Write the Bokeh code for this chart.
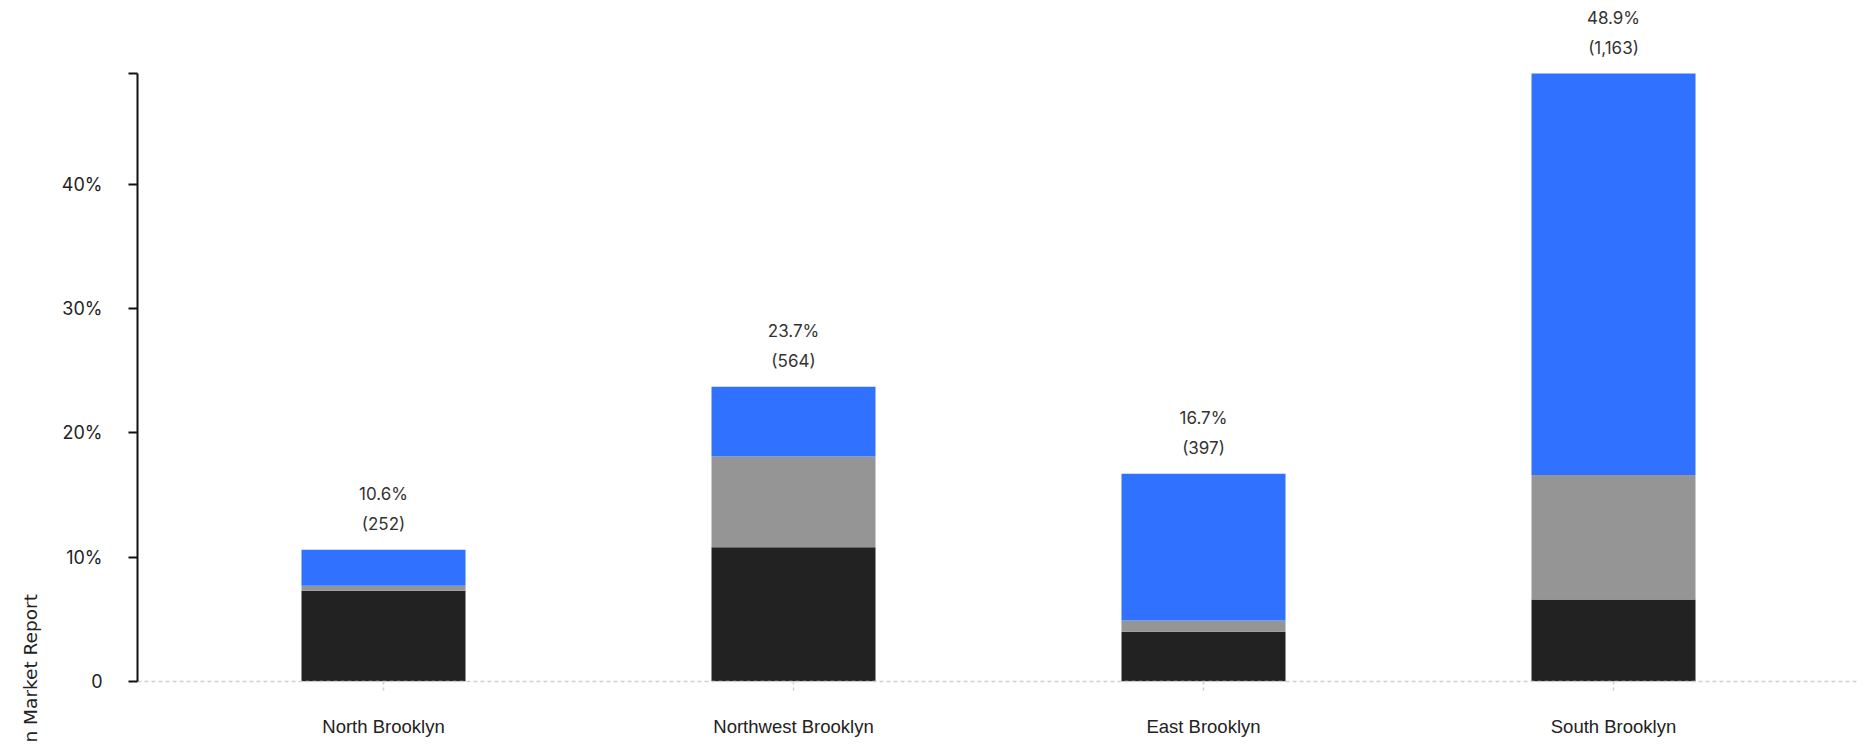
import math
from bokeh.plotting import figure
from bokeh.models import (FactorRange, Range1d, ColumnDataSource, LabelSet, Title,
                          FixedTicker, PrintfTickFormatter)
from bokeh.core.properties import value
from bokeh.embed import file_html
from bokeh.resources import INLINE

# ---- data ----
categories = ["North Brooklyn", "Northwest Brooklyn", "East Brooklyn", "South Brooklyn"]
seg_dark = [7.3, 10.8, 4.0, 6.6]
seg_gray = [0.4, 7.3, 0.9, 10.0]
seg_blue = [2.9, 5.6, 11.8, 32.3]
total_pct = [10.6, 23.7, 16.7, 48.9]
total_count = [252, 564, 397, 1163]
y_ticks = [0, 10, 20, 30, 40]
side_title = "n Market Report"

colors = ["#222222", "#959595", "#3071FF"]
stack_keys = ["dark", "gray", "blue"]

src = ColumnDataSource(dict(
    cat=categories,
    dark=seg_dark,
    gray=seg_gray,
    blue=seg_blue,
    total=total_pct,
    pct_text=[f"{v:.1f}%" for v in total_pct],
    cnt_text=[f"({c:,})" for c in total_count],
))

y_top = max(total_pct)
# frame reaches the top of the page so the labels above the tallest bar stay visible;
# the axis itself stops at the data maximum
frame_h = 681
plot_h = 608
y_end = y_top * frame_h / plot_h

p = figure(width=1866, height=744,
           x_range=FactorRange(*categories, range_padding=0.05),
           y_range=Range1d(0, y_end),
           output_backend="svg", toolbar_location=None,
           min_border_left=137, min_border_right=7,
           min_border_top=0, min_border_bottom=63)
p.outline_line_color = None
p.xgrid.grid_line_color = None
p.ygrid.grid_line_color = None
p.background_fill_color = "white"
p.border_fill_color = "white"

p.vbar_stack(stack_keys, x="cat", width=0.4, source=src, color=colors, line_color=None)

# y axis
p.yaxis.bounds = (0, y_top)
p.yaxis.ticker = FixedTicker(ticks=y_ticks + [y_top])
p.yaxis.formatter = PrintfTickFormatter(format="%d%%")
p.yaxis.major_label_overrides = {0: "0", y_top: ""}
p.yaxis.axis_line_color = "#111111"
p.yaxis.axis_line_width = 2
p.yaxis.major_tick_line_color = "#111111"
p.yaxis.major_tick_line_width = 2
p.yaxis.major_tick_in = 0
p.yaxis.major_tick_out = 9
p.yaxis.minor_tick_line_color = None
p.yaxis.major_label_standoff = 26
p.yaxis.major_label_text_font = "Inter"
p.yaxis.major_label_text_font_size = "18px"
p.yaxis.major_label_text_color = "#222222"

# x axis
p.xaxis.axis_line_color = "#cfcfcf"
p.xaxis.axis_line_dash = "4 3"
p.xaxis.axis_line_width = 1.5
p.xaxis.major_tick_line_color = "#cfcfcf"
p.xaxis.major_tick_line_dash = "3 3"
p.xaxis.major_tick_line_width = 1.5
p.xaxis.major_tick_in = 0
p.xaxis.major_tick_out = 9
p.xaxis.minor_tick_line_color = None
p.xaxis.major_label_standoff = 25
p.xaxis.major_label_text_font = "Liberation Sans"
p.xaxis.major_label_text_font_size = "18.5px"
p.xaxis.major_label_text_color = "#222222"

# value labels above bars
pct_labels = LabelSet(x="cat", y="total", text="pct_text", source=src,
                      y_offset=56, text_align="center", text_baseline="middle",
                      text_font=value("Inter"), text_font_size=value("17px"),
                      text_color="#333333")
cnt_labels = LabelSet(x="cat", y="total", text="cnt_text", source=src,
                      y_offset=26, text_align="center", text_baseline="middle",
                      text_font=value("Inter"), text_font_size=value("17px"),
                      text_color="#333333")
p.add_layout(pct_labels)
p.add_layout(cnt_labels)

# side title, cut off by the bottom edge of the page
side = Title(text=side_title, align="left", offset=-61, vertical_align="top",
             text_font="DejaVu Sans", text_font_size="18.5px",
             text_font_style="normal", text_color="#222222")
side.standoff = 32
p.add_layout(side, "left")

open("out.html", "w").write(file_html(p, INLINE))
